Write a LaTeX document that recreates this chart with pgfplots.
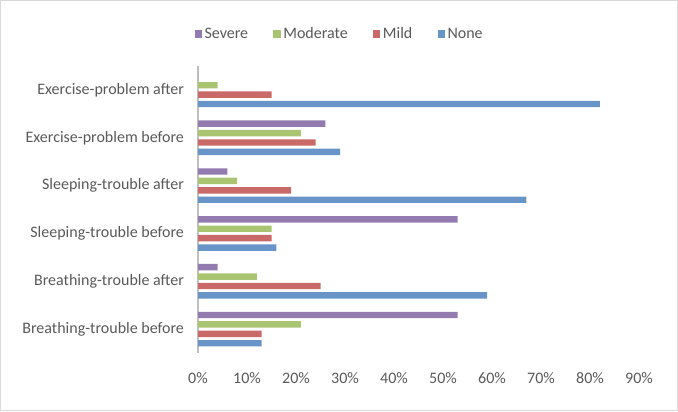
\documentclass[border=0pt]{standalone}
\usepackage{pgfplots}
\pgfplotsset{compat=1.18}
\usepackage{pgfplotstable}
\usepackage{fontspec}
\setmainfont{Carlito}
\definecolor{cSev}{HTML}{8064A2}
\definecolor{cMod}{HTML}{9BBB59}
\definecolor{cMil}{HTML}{C0504D}
\definecolor{cNon}{HTML}{4F81BD}
\definecolor{txt}{HTML}{595959}
\definecolor{frame}{HTML}{D9D9D9}
\definecolor{axisgray}{HTML}{BFBFBF}

% categories bottom to top: 0 Breathing before ... 5 Exercise after
\pgfplotstableread{
cat none mild moderate severe
0   13   13   21       53
1   59   25   12       4
2   16   15   15       53
3   67   19   8        6
4   29   24   21       26
5   82   15   4        0
}\data

\begin{document}
\begin{tikzpicture}
\draw[frame, line width=0.75pt] (0.375pt,0.375pt) rectangle (508.1pt,307.9pt);
\begin{axis}[
    at={(148.5pt,43.5pt)}, anchor=south west,
    scale only axis,
    width=330.75pt, height=215.25pt,
    xbar=2.25pt, bar width=4.8pt,
    xmin=0, xmax=90,
    ymin=-0.5, ymax=5.5,
    axis lines*=left,
    x axis line style={draw=none},
    y axis line style={draw=axisgray, line width=1.5pt},
    major tick length=0pt,
    xtick={0,10,...,90},
    xticklabel={\pgfmathprintnumber{\tick}\%},
    ytick={0,...,5},
    yticklabels={Breathing-trouble before, Breathing-trouble after, Sleeping-trouble before, Sleeping-trouble after, Exercise-problem before, Exercise-problem after},
    tick label style={font=\fontsize{12}{14}\selectfont, text=txt},
    xticklabel style={yshift=-11pt},
    yticklabel style={xshift=-7pt},
    /pgf/number format/assume math mode=true,
    legend columns=4,
    reverse legend,
    legend style={at={(0.322,1.112)}, anchor=center, draw=none,
        font=\fontsize{12}{14}\selectfont, text=txt,
        /tikz/every even column/.append style={column sep=17pt}},
    legend image code/.code={\fill[#1] (0pt,-2.8pt) rectangle (5.4pt,2.8pt);},
]
\addplot[fill=cNon!85!white, draw=none] table[x=none, y=cat] {\data};
\addlegendentry{None}
\addplot[fill=cMil!85!white, draw=none] table[x=mild, y=cat] {\data};
\addlegendentry{Mild}
\addplot[fill=cMod!85!white, draw=none] table[x=moderate, y=cat] {\data};
\addlegendentry{Moderate}
\addplot[fill=cSev!85!white, draw=none] table[x=severe, y=cat] {\data};
\addlegendentry{Severe}
\end{axis}
\end{tikzpicture}
\end{document}
